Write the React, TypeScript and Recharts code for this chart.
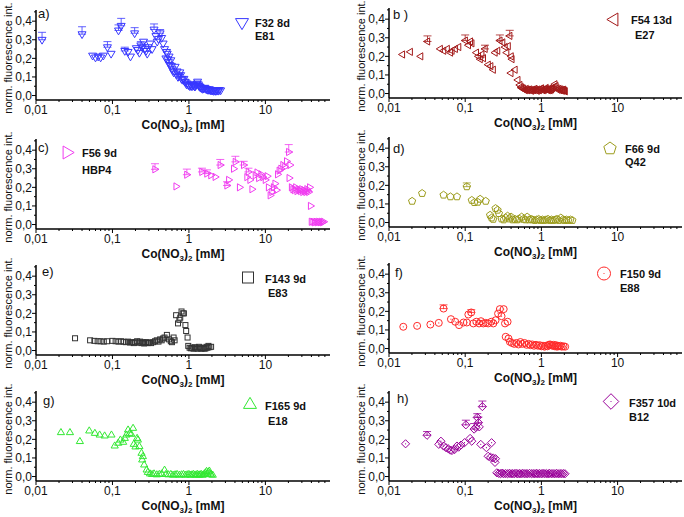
import React from "react";
import { ScatterChart, Scatter, XAxis, YAxis, ErrorBar } from "recharts";

type Pt = [number, number, number?];

// x: Co(NO3)2 [mM], y: norm. fluorescence int., optional 3rd = upper error
const f32: Pt[] = [
  [0.012, 0.3, 0.04], [0.04, 0.33, 0.04], [0.055, 0.215], [0.06, 0.205], [0.065, 0.21], [0.07, 0.205],
  [0.076, 0.215], [0.086, 0.26, 0.03], [0.096, 0.225], [0.12, 0.35, 0.03], [0.13, 0.375, 0.04],
  [0.145, 0.24, 0.02], [0.16, 0.235], [0.172, 0.21], [0.195, 0.335, 0.03], [0.205, 0.255], [0.215, 0.245],
  [0.225, 0.23], [0.235, 0.27, 0.02], [0.245, 0.26], [0.255, 0.29], [0.265, 0.25], [0.275, 0.24],
  [0.285, 0.225], [0.295, 0.26], [0.31, 0.28], [0.33, 0.25], [0.35, 0.355, 0.03], [0.37, 0.32],
  [0.385, 0.29], [0.4, 0.305], [0.42, 0.335, 0.02], [0.44, 0.31], [0.46, 0.28], [0.48, 0.25], [0.5, 0.2],
  [0.51, 0.235], [0.52, 0.225], [0.53, 0.195], [0.54, 0.18], [0.55, 0.21], [0.56, 0.165], [0.58, 0.19],
  [0.59, 0.16], [0.6, 0.145], [0.62, 0.135], [0.63, 0.125], [0.66, 0.155], [0.68, 0.115], [0.7, 0.13],
  [0.72, 0.1], [0.74, 0.105], [0.76, 0.125], [0.78, 0.11], [0.8, 0.09], [0.82, 0.085], [0.86, 0.09],
  [0.88, 0.075], [0.9, 0.072], [0.93, 0.06], [0.95, 0.065], [0.98, 0.058], [1.0, 0.055], [1.03, 0.05],
  [1.05, 0.06], [1.08, 0.052], [1.1, 0.05], [1.13, 0.058], [1.15, 0.055], [1.18, 0.05], [1.2, 0.048],
  [1.23, 0.055], [1.25, 0.06], [1.28, 0.065], [1.3, 0.075], [1.33, 0.06], [1.35, 0.052], [1.38, 0.048],
  [1.4, 0.045], [1.44, 0.042], [1.47, 0.04], [1.51, 0.036], [1.55, 0.038], [1.58, 0.04], [1.62, 0.042],
  [1.66, 0.036], [1.7, 0.035], [1.74, 0.032], [1.78, 0.03], [1.82, 0.033], [1.86, 0.034], [1.9, 0.028],
  [1.95, 0.03], [2.0, 0.027], [2.05, 0.028], [2.1, 0.025], [2.15, 0.03], [2.2, 0.026], [2.25, 0.025],
  [2.3, 0.03], [2.35, 0.028], [2.42, 0.026], [2.5, 0.03], [2.6, 0.028],
];

const f54: Pt[] = [
  [0.015, 0.21], [0.019, 0.224], [0.026, 0.2], [0.032, 0.28, 0.03], [0.047, 0.24], [0.052, 0.23],
  [0.058, 0.24], [0.064, 0.22], [0.067, 0.23], [0.074, 0.24], [0.082, 0.25], [0.1, 0.285, 0.03],
  [0.11, 0.26], [0.117, 0.28], [0.122, 0.27], [0.14, 0.22], [0.149, 0.2], [0.157, 0.185], [0.165, 0.21],
  [0.173, 0.19], [0.182, 0.24, 0.02], [0.2, 0.155], [0.216, 0.147], [0.233, 0.128], [0.246, 0.22],
  [0.266, 0.23], [0.285, 0.285, 0.03], [0.31, 0.275], [0.333, 0.25], [0.35, 0.22], [0.366, 0.255],
  [0.384, 0.31, 0.03], [0.4, 0.2], [0.41, 0.185], [0.397, 0.11], [0.45, 0.128], [0.49, 0.073],
  [0.52, 0.046], [0.54, 0.035], [0.55, 0.03], [0.57, 0.028], [0.58, 0.025], [0.6, 0.02], [0.62, 0.018],
  [0.63, 0.025], [0.65, 0.02], [0.66, 0.018], [0.68, 0.02], [0.7, 0.022], [0.72, 0.018], [0.74, 0.015],
  [0.76, 0.02], [0.78, 0.02], [0.8, 0.018], [0.82, 0.025], [0.84, 0.02], [0.86, 0.018], [0.88, 0.015],
  [0.9, 0.022], [0.93, 0.018], [0.95, 0.02], [0.98, 0.025], [1.0, 0.028], [1.03, 0.02], [1.05, 0.018],
  [1.08, 0.02], [1.1, 0.022], [1.13, 0.025], [1.15, 0.03], [1.18, 0.022], [1.2, 0.02], [1.23, 0.018],
  [1.25, 0.025], [1.28, 0.02], [1.3, 0.018], [1.33, 0.025], [1.35, 0.022], [1.38, 0.028], [1.4, 0.03],
  [1.45, 0.035], [1.5, 0.05], [1.55, 0.04], [1.6, 0.028], [1.65, 0.02], [1.7, 0.025], [1.75, 0.018],
  [1.8, 0.022], [1.84, 0.018], [1.88, 0.015], [1.92, 0.02], [1.95, 0.02], [2.0, 0.015], [2.05, 0.012],
];

const f56: Pt[] = [
  [0.36, 0.297, 0.03], [0.68, 0.205], [0.94, 0.268, 0.03], [1.48, 0.283, 0.02], [1.72, 0.274, 0.02],
  [1.94, 0.265], [2.21, 0.256], [2.57, 0.32, 0.03], [3.15, 0.21, 0.02], [3.32, 0.24], [3.85, 0.3],
  [4.05, 0.337, 0.03], [4.6, 0.2], [5.2, 0.32, 0.02], [5.75, 0.255], [6.0, 0.283, 0.02], [6.3, 0.24],
  [6.7, 0.19], [7.4, 0.265], [7.8, 0.28], [8.2, 0.25], [8.8, 0.27], [9.3, 0.255], [10.0, 0.24],
  [10.6, 0.26], [11.0, 0.2], [11.6, 0.157], [12.2, 0.175], [12.8, 0.2], [13.4, 0.22], [14.0, 0.185],
  [14.5, 0.27], [15.2, 0.29], [16.0, 0.3], [17.0, 0.32], [18.0, 0.31], [19.0, 0.34], [20.2, 0.39, 0.04],
  [21.0, 0.32], [20.5, 0.25], [22.0, 0.2], [23, 0.19], [24, 0.185], [25, 0.2], [26, 0.18], [27, 0.19],
  [28, 0.185], [29, 0.18], [30, 0.19], [31, 0.175], [32, 0.185], [33, 0.18], [34, 0.175], [35, 0.19],
  [36, 0.18], [37, 0.175], [38, 0.2], [39, 0.1], [40, 0.015], [42, 0.015], [44, 0.012], [46, 0.015],
  [48, 0.012], [50, 0.015], [52, 0.012], [54, 0.015], [56, 0.012], [58, 0.015],
];

const f66: Pt[] = [
  [0.0201, 0.115], [0.0272, 0.157], [0.052, 0.148], [0.064, 0.139], [0.078, 0.139], [0.105, 0.193, 0.02],
  [0.122, 0.12], [0.132, 0.108], [0.146, 0.11], [0.157, 0.126], [0.186, 0.115], [0.212, 0.04],
  [0.222, 0.025], [0.233, 0.018], [0.25, 0.076], [0.266, 0.067], [0.277, 0.049], [0.3, 0.02],
  [0.32, 0.015], [0.34, 0.025], [0.36, 0.035], [0.38, 0.02], [0.4, 0.03], [0.42, 0.015], [0.45, 0.018],
  [0.48, 0.015], [0.51, 0.02], [0.55, 0.03], [0.58, 0.018], [0.62, 0.015], [0.65, 0.03], [0.69, 0.015],
  [0.73, 0.018], [0.77, 0.015], [0.82, 0.012], [0.87, 0.015], [0.92, 0.018], [0.97, 0.012], [1.03, 0.015],
  [1.09, 0.012], [1.15, 0.015], [1.22, 0.018], [1.29, 0.012], [1.36, 0.015], [1.44, 0.012], [1.52, 0.015],
  [1.6, 0.018], [1.7, 0.012], [1.8, 0.025], [1.9, 0.015], [2.0, 0.012], [2.12, 0.015], [2.25, 0.012],
  [2.4, 0.015], [2.55, 0.012],
];

const f143: Pt[] = [
  [0.0324, 0.066], [0.051, 0.055], [0.058, 0.052], [0.064, 0.05], [0.07, 0.05], [0.077, 0.048],
  [0.085, 0.05], [0.1, 0.052], [0.11, 0.05], [0.12, 0.048], [0.13, 0.05], [0.14, 0.047], [0.15, 0.045],
  [0.16, 0.048], [0.17, 0.043], [0.18, 0.045], [0.19, 0.04], [0.2, 0.045], [0.21, 0.05], [0.22, 0.042],
  [0.23, 0.048], [0.24, 0.04], [0.25, 0.045], [0.26, 0.038], [0.27, 0.042], [0.28, 0.045], [0.29, 0.04],
  [0.3, 0.043], [0.32, 0.04], [0.34, 0.045], [0.36, 0.05], [0.38, 0.055], [0.4, 0.048], [0.42, 0.06],
  [0.44, 0.055], [0.46, 0.065], [0.48, 0.07], [0.515, 0.084], [0.55, 0.06], [0.58, 0.05], [0.6, 0.045],
  [0.63, 0.07], [0.65, 0.055], [0.68, 0.19], [0.72, 0.146], [0.75, 0.165], [0.77, 0.177], [0.8, 0.21],
  [0.83, 0.2], [0.86, 0.2], [0.9, 0.137], [0.92, 0.105], [0.96, 0.07], [0.98, 0.025], [1.02, 0.015],
  [1.06, 0.012], [1.1, 0.015], [1.15, 0.01], [1.2, 0.018], [1.25, 0.012], [1.3, 0.01], [1.35, 0.02],
  [1.4, 0.015], [1.45, 0.01], [1.5, 0.012], [1.55, 0.015], [1.6, 0.01], [1.65, 0.012], [1.7, 0.02],
  [1.75, 0.015], [1.8, 0.025], [1.85, 0.018], [1.95, 0.02],
];

const f150: Pt[] = [
  [0.0154, 0.117], [0.0234, 0.122], [0.0349, 0.129], [0.045, 0.138], [0.052, 0.215, 0.02], [0.065, 0.158],
  [0.074, 0.144], [0.083, 0.126], [0.095, 0.14], [0.105, 0.14], [0.11, 0.183], [0.12, 0.194, 0.015],
  [0.128, 0.135], [0.14, 0.144], [0.152, 0.135], [0.161, 0.147], [0.173, 0.135], [0.186, 0.138],
  [0.2, 0.135], [0.22, 0.144], [0.234, 0.135], [0.25, 0.152], [0.27, 0.188], [0.285, 0.212], [0.3, 0.174],
  [0.32, 0.212], [0.333, 0.135], [0.36, 0.144], [0.34, 0.063], [0.37, 0.054], [0.386, 0.036], [0.41, 0.03],
  [0.44, 0.025], [0.47, 0.03], [0.5, 0.022], [0.53, 0.035], [0.56, 0.025], [0.6, 0.03], [0.64, 0.02],
  [0.68, 0.025], [0.72, 0.018], [0.76, 0.022], [0.8, 0.015], [0.85, 0.02], [0.9, 0.015], [0.95, 0.018],
  [1.0, 0.012], [1.05, 0.015], [1.1, 0.01], [1.15, 0.015], [1.2, 0.012], [1.25, 0.02], [1.3, 0.022],
  [1.35, 0.018], [1.4, 0.015], [1.45, 0.02], [1.5, 0.012], [1.55, 0.018], [1.6, 0.01], [1.65, 0.015],
  [1.7, 0.012], [1.78, 0.015], [1.85, 0.01], [1.95, 0.012], [2.05, 0.01],
];

const f165: Pt[] = [
  [0.0212, 0.237], [0.0278, 0.237], [0.0375, 0.189], [0.0497, 0.246], [0.0589, 0.233], [0.068, 0.224],
  [0.079, 0.219], [0.097, 0.224], [0.107, 0.165], [0.119, 0.18], [0.127, 0.197], [0.138, 0.185],
  [0.145, 0.206], [0.152, 0.224], [0.16, 0.251], [0.168, 0.233], [0.176, 0.228], [0.186, 0.26],
  [0.19, 0.174], [0.2, 0.16], [0.21, 0.206], [0.215, 0.197], [0.225, 0.162], [0.24, 0.126], [0.245, 0.09],
  [0.25, 0.108], [0.26, 0.063], [0.28, 0.036], [0.29, 0.023], [0.31, 0.015], [0.33, 0.012], [0.35, 0.015],
  [0.38, 0.01], [0.41, 0.012], [0.44, 0.015], [0.48, 0.035], [0.5, 0.012], [0.54, 0.01], [0.58, 0.012],
  [0.62, 0.008], [0.66, 0.01], [0.7, 0.012], [0.75, 0.008], [0.8, 0.01], [0.85, 0.012], [0.9, 0.008],
  [0.95, 0.01], [1.0, 0.012], [1.05, 0.008], [1.1, 0.01], [1.15, 0.012], [1.2, 0.008], [1.25, 0.01],
  [1.3, 0.012], [1.35, 0.008], [1.4, 0.01], [1.45, 0.012], [1.5, 0.008], [1.55, 0.01], [1.6, 0.015],
  [1.65, 0.02], [1.7, 0.028], [1.75, 0.012], [1.8, 0.025], [1.85, 0.03], [1.9, 0.015], [1.95, 0.01],
  [2.05, 0.008],
];

const f357: Pt[] = [
  [0.0165, 0.176], [0.0316, 0.222, 0.02], [0.045, 0.173], [0.048, 0.19], [0.052, 0.164], [0.056, 0.155],
  [0.06, 0.149], [0.064, 0.142], [0.067, 0.14], [0.0726, 0.145], [0.078, 0.164], [0.082, 0.158],
  [0.088, 0.169], [0.098, 0.182], [0.102, 0.278, 0.025], [0.116, 0.205], [0.122, 0.19], [0.131, 0.255, 0.03],
  [0.138, 0.264], [0.144, 0.318, 0.02], [0.149, 0.29, 0.03], [0.153, 0.267], [0.16, 0.173],
  [0.168, 0.376, 0.03], [0.19, 0.155], [0.2, 0.109], [0.215, 0.104], [0.222, 0.182], [0.233, 0.1],
  [0.246, 0.076], [0.25, 0.096], [0.26, 0.02], [0.275, 0.017], [0.29, 0.015], [0.305, 0.018],
  [0.32, 0.015], [0.34, 0.016], [0.36, 0.015], [0.38, 0.017], [0.4, 0.015], [0.42, 0.016], [0.44, 0.015],
  [0.465, 0.017], [0.49, 0.015], [0.515, 0.016], [0.54, 0.015], [0.57, 0.017], [0.6, 0.015], [0.63, 0.016],
  [0.66, 0.015], [0.7, 0.017], [0.74, 0.015], [0.78, 0.016], [0.82, 0.015], [0.86, 0.017], [0.9, 0.015],
  [0.95, 0.016], [1.0, 0.015], [1.05, 0.017], [1.1, 0.015], [1.16, 0.016], [1.22, 0.015], [1.28, 0.017],
  [1.35, 0.015], [1.42, 0.016], [1.5, 0.015], [1.58, 0.017], [1.66, 0.015], [1.75, 0.016], [1.84, 0.015],
  [1.94, 0.016], [2.04, 0.015],
];

const xMajor = [0.01, 0.1, 1, 10];
const xTickLabels = ["0,01", "0,1", "1", "10"];
const xMinor = [
  0.02, 0.03, 0.04, 0.05, 0.06, 0.07, 0.08, 0.09,
  0.2, 0.3, 0.4, 0.5, 0.6, 0.7, 0.8, 0.9,
  2, 3, 4, 5, 6, 7, 8, 9,
  20, 30, 40, 50, 60,
];
const yMajor = [0, 0.1, 0.2, 0.3, 0.4];
const yTickLabels = ["0,0", "0,1", "0,2", "0,3", "0,4"];
const yMinor = [0.05, 0.15, 0.25, 0.35, 0.45];

const FONT = '"Liberation Sans", Arial, sans-serif';

const toRows = (pts: Pt[]) =>
  pts.map(([x, y, e]) => ({ x, y, e: e ? [0, e] : undefined }));

type Kind = "down" | "left" | "right" | "up" | "pent" | "square" | "circle" | "diamond";

function Marker({ kind, cx, cy, r, color }: { kind: Kind; cx: number; cy: number; r: number; color: string }) {
  const common = { fill: "none", stroke: color, strokeWidth: 1 };
  const poly = (p: number[][]) => <polygon points={p.map((q) => q.join(",")).join(" ")} {...common} />;
  switch (kind) {
    case "down":
      return poly([[cx - r, cy - 0.6 * r], [cx + r, cy - 0.6 * r], [cx, cy + 1.1 * r]]);
    case "up":
      return poly([[cx - r, cy + 0.6 * r], [cx + r, cy + 0.6 * r], [cx, cy - 1.1 * r]]);
    case "left":
      return poly([[cx - 1.1 * r, cy], [cx + 0.6 * r, cy - r], [cx + 0.6 * r, cy + r]]);
    case "right":
      return poly([[cx + 1.1 * r, cy], [cx - 0.6 * r, cy - r], [cx - 0.6 * r, cy + r]]);
    case "pent": {
      const pts = [0, 1, 2, 3, 4].map((k) => {
        const a = (-90 + 72 * k) * (Math.PI / 180);
        return [cx + r * Math.cos(a), cy + r * Math.sin(a)];
      });
      return poly(pts);
    }
    case "square":
      return <rect x={cx - r} y={cy - r} width={2 * r} height={2 * r} {...common} />;
    case "circle":
      return (
        <g>
          <circle cx={cx} cy={cy} r={r} {...common} />
          <circle cx={cx} cy={cy} r={0.6} fill={color} />
        </g>
      );
    case "diamond":
      return (
        <g>
          {poly([[cx, cy - 1.2 * r], [cx + 1.2 * r, cy], [cx, cy + 1.2 * r], [cx - 1.2 * r, cy]])}
          <circle cx={cx} cy={cy} r={0.6} fill={color} />
        </g>
      );
  }
  return null;
}

const XTick = (p: any) => {
  const v = p.payload.value;
  const i = xMajor.indexOf(v);
  return (
    <g>
      <line x1={p.x} x2={p.x} y1={p.y} y2={p.y + (i >= 0 ? 4 : 2)} stroke="#000" strokeWidth={1} />
      {i >= 0 && (
        <text x={p.x} y={p.y + 14} textAnchor="middle" fontSize={12} fontFamily={FONT} fill="#111">
          {xTickLabels[i]}
        </text>
      )}
    </g>
  );
};

const YTick = (p: any) => {
  const v = p.payload.value;
  const i = yMajor.indexOf(v);
  return (
    <g>
      <line x1={p.x} x2={p.x - (i >= 0 ? 4 : 2)} y1={p.y} y2={p.y} stroke="#000" strokeWidth={1} />
      {i >= 0 && (
        <text x={p.x - 4} y={p.y + 4.3} textAnchor="end" fontSize={12} fontFamily={FONT} fill="#111">
          {yTickLabels[i]}
        </text>
      )}
    </g>
  );
};

const XTitle = (p: any) => {
  const vb = p.viewBox;
  return (
    <text x={vb.x + vb.width / 2} y={vb.y + 29} textAnchor="middle" fontSize={12} fontWeight="bold" fontFamily={FONT} fill="#111">
      Co(NO<tspan fontSize={8} dy={3}>3</tspan>
      <tspan dy={-3}>)</tspan>
      <tspan fontSize={8} dy={3}>2</tspan>
      <tspan dy={-3}> [mM]</tspan>
    </text>
  );
};

const YTitle = (p: any) => {
  const vb = p.viewBox;
  const x = vb.x + 2;
  const y = vb.y + vb.height / 2 + 3;
  return (
    <text x={x} y={y} transform={`rotate(-90 ${x} ${y})`} textAnchor="middle" dominantBaseline="central" fontSize={11} fontFamily={FONT} fill="#111">
      norm. fluorescence int.
    </text>
  );
};

type Panel = {
  letter: string;
  col: number;
  y0: number;
  data: Pt[];
  color: string;
  kind: Kind;
  r: number;
  name: string;
  code: string;
  lg: { mx: number; my: number; tx: number; t1: number; t2x: number; t2: number };
  lt: { dx: number; dy: number };
};

const panels: Panel[] = [
  { letter: "a)", col: 0, y0: 95.7, data: f32, color: "#3838ff", kind: "down", r: 4, name: "F32 8d", code: "E81",
    lg: { mx: 206, my: -73, tx: 219, t1: -69, t2x: 219, t2: -56 }, lt: { dx: 2, dy: -78 } },
  { letter: "b )", col: 1, y0: 93.5, data: f54, color: "#a31a1a", kind: "left", r: 3.6, name: "F54 13d", code: "E27",
    lg: { mx: 225, my: -74, tx: 242, t1: -70, t2x: 246, t2: -55 }, lt: { dx: 4, dy: -75 } },
  { letter: "c)", col: 0, y0: 224, data: f56, color: "#f03cf0", kind: "right", r: 3.6, name: "F56 9d", code: "HBP4",
    lg: { mx: 31, my: -72, tx: 46, t1: -68, t2x: 46, t2: -51 }, lt: { dx: 2, dy: -73 } },
  { letter: "d)", col: 1, y0: 222.3, data: f66, color: "#9c9c1c", kind: "pent", r: 3.8, name: "F66 9d", code: "Q42",
    lg: { mx: 221, my: -74, tx: 236, t1: -70, t2x: 236, t2: -57 }, lt: { dx: 4, dy: -70 } },
  { letter: "e)", col: 0, y0: 350.7, data: f143, color: "#333333", kind: "square", r: 2.5, name: "F143 9d", code: "E83",
    lg: { mx: 212, my: -73, tx: 229, t1: -68, t2x: 232, t2: -54 }, lt: { dx: 6, dy: -75 } },
  { letter: "f)", col: 1, y0: 348.3, data: f150, color: "#ff2a2a", kind: "circle", r: 3.5, name: "F150 9d", code: "E88",
    lg: { mx: 215, my: -75, tx: 231, t1: -71, t2x: 231, t2: -57 }, lt: { dx: 6, dy: -72 } },
  { letter: "g)", col: 0, y0: 476.7, data: f165, color: "#33e833", kind: "up", r: 3.6, name: "F165 9d", code: "E18",
    lg: { mx: 214, my: -72, tx: 229, t1: -67, t2x: 232, t2: -52 }, lt: { dx: 7, dy: -72 } },
  { letter: "h)", col: 1, y0: 476.7, data: f357, color: "#990099", kind: "diamond", r: 3.4, name: "F357 10d", code: "B12",
    lg: { mx: 222, my: -75, tx: 240, t1: -70, t2x: 240, t2: -56 }, lt: { dx: 8, dy: -74 } },
];

const W = 342;
const H = 140;
const TOP = 10;
const ZERO = 95.5; // y of value 0 inside the chart box

function PanelChart({ p }: { p: Panel }) {
  const left = p.col * 342;
  const top = Math.round(p.y0 - ZERO);
  const margin = p.col === 0 ? { top: TOP, right: 12, bottom: 0, left: 6 } : { top: TOP, right: 2, bottom: 0, left: 17 };
  const x0 = margin.left + 30;
  const rows = toRows(p.data);
  return (
    <div style={{ position: "absolute", left, top, width: W, height: H }}>
      <ScatterChart width={W} height={H} margin={margin}>
        <XAxis
          type="number"
          dataKey="x"
          scale="log"
          domain={[0.01, 70]}
          allowDataOverflow
          ticks={[...xMajor, ...xMinor]}
          interval={0}
          tick={(t: any) => <XTick {...t} />}
          tickLine={false}
          tickSize={0}
          tickMargin={0}
          axisLine={{ stroke: "#000", strokeWidth: 1.5 }}
          height={40}
          label={{ content: XTitle }}
        />
        <YAxis
          type="number"
          dataKey="y"
          domain={[-0.024, 0.46]}
          allowDataOverflow
          ticks={[...yMajor, ...yMinor]}
          interval={0}
          tick={(t: any) => <YTick {...t} />}
          tickLine={false}
          tickSize={0}
          tickMargin={0}
          width={30}
          axisLine={{ stroke: "#000", strokeWidth: 1.5 }}
          label={{ content: YTitle }}
        />
        <Scatter
          data={rows}
          isAnimationActive={false}
          shape={(s: any) => <Marker kind={p.kind} cx={s.cx} cy={s.cy} r={p.r} color={p.color} />}
        >
          <ErrorBar dataKey="e" direction="y" width={4} stroke={p.color} strokeWidth={0.8} />
        </Scatter>
      </ScatterChart>
      <svg width={W} height={H} style={{ position: "absolute", left: 0, top: 0, pointerEvents: "none" }}>
        <text x={x0 + p.lt.dx} y={ZERO + p.lt.dy} fontSize={13} fontFamily={FONT} fill="#111">
          {p.letter}
        </text>
        <Marker kind={p.kind} cx={x0 + p.lg.mx} cy={ZERO + p.lg.my} r={p.kind === "square" ? 5.5 : 6.5} color={p.color} />
        <text x={x0 + p.lg.tx} y={ZERO + p.lg.t1} fontSize={11} fontWeight="bold" fontFamily={FONT} fill="#111">
          {p.name}
        </text>
        <text x={x0 + p.lg.t2x} y={ZERO + p.lg.t2} fontSize={11} fontWeight="bold" fontFamily={FONT} fill="#111">
          {p.code}
        </text>
      </svg>
    </div>
  );
}

export default function App() {
  return (
    <div style={{ position: "absolute", left: 0, top: 0, width: 684, height: 517, background: "#fff", overflow: "hidden" }}>
      {panels.map((p) => (
        <PanelChart key={p.letter} p={p} />
      ))}
    </div>
  );
}
